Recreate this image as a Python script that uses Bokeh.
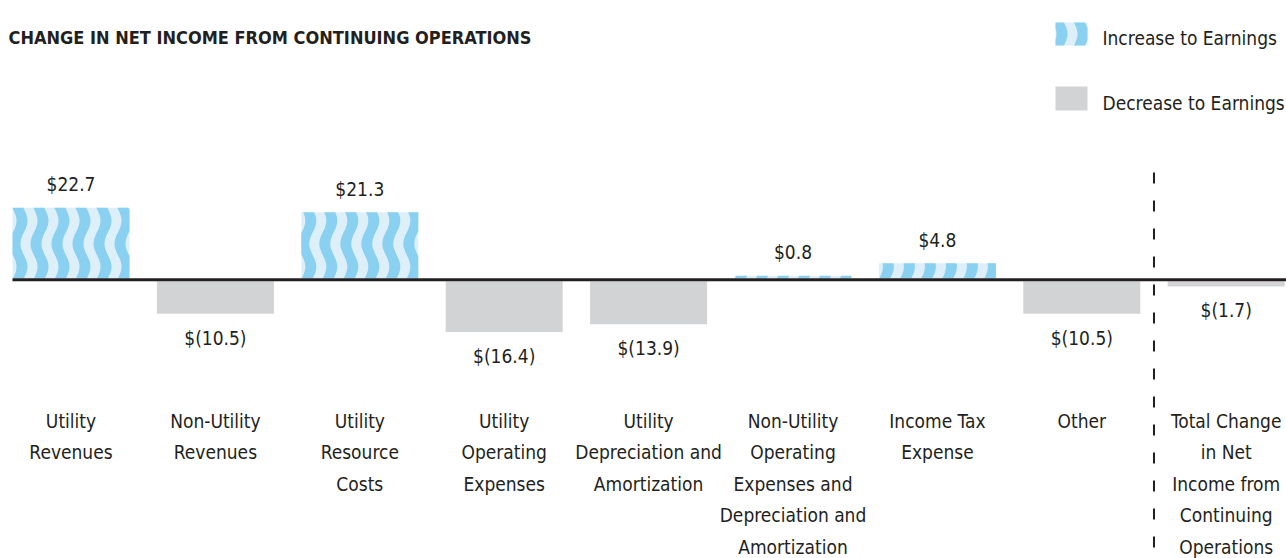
import numpy as np
from bokeh.plotting import figure
from bokeh.models import Range1d
from bokeh.embed import file_html
from bokeh.resources import INLINE
from bokeh.core.properties import value

# ---------------- data ----------------
title = "CHANGE IN NET INCOME FROM CONTINUING OPERATIONS"
categories = [
    "Utility\nRevenues",
    "Non-Utility\nRevenues",
    "Utility\nResource\nCosts",
    "Utility\nOperating\nExpenses",
    "Utility\nDepreciation and\nAmortization",
    "Non-Utility\nOperating\nExpenses and\nDepreciation and\nAmortization",
    "Income Tax\nExpense",
    "Other",
    "Total Change\nin Net\nIncome from\nContinuing\nOperations",
]
changes = [22.7, -10.5, 21.3, -16.4, -13.9, 0.8, 4.8, -10.5, -1.7]
value_labels = ["$22.7", "$(10.5)", "$21.3", "$(16.4)", "$(13.9)", "$0.8", "$4.8", "$(10.5)", "$(1.7)"]
legend_labels = ["Increase to Earnings", "Decrease to Earnings"]

# ---------------- styling / layout ----------------
FONT = "'DejaVu Sans Condensed', 'Liberation Sans Narrow', Roboto, sans-serif"
TXT = "#231f20"
BLUE_D = "#8ad0f0"
BLUE_L = "#ddf0fa"
GRAY = "#d1d3d4"

W, H = 1286, 558
PX_X = 144.4   # px per category step
PX_Y = 3.1     # px per $ million
X0 = 70.5      # px of first category centre
Y0 = 279.2     # px of zero line from top
LINE_W = 3.0
GAP = (LINE_W / 2) / PX_Y
BAR_W = 117 / PX_X


def dx(px):
    return (px - X0) / PX_X


def dy(py):
    return (Y0 - py) / PX_Y


p = figure(width=W, height=H, x_range=Range1d(dx(0), dx(W)), y_range=Range1d(dy(H), dy(0)),
           tools="", toolbar_location=None, output_backend="svg", min_border=0,
           x_axis_location=None, y_axis_location=None)
p.grid.visible = False
p.outline_line_color = None
p.background_fill_color = "white"
p.border_fill_color = "white"

idx = list(range(len(changes)))
pos = [i for i in idx if changes[i] > 0]
neg = [i for i in idx if changes[i] <= 0]


def wave_stripes(left_px, bottom_px, width_px, height_px, step=21.0, sw=11.0, amp=3.5, period=46.0, start=6.0):
    """stripe polygons in px coordinates (x right, y up from bottom)"""
    xs, ys = [], []
    t = np.linspace(0, height_px, max(int(height_px) + 2, 3))
    off = amp * np.sin(2 * np.pi * t / period)
    c = start
    while c - sw / 2 - amp < width_px:
        l = np.clip(c - sw / 2 + off, 0, width_px)
        r = np.clip(c + sw / 2 + off, 0, width_px)
        xs.append(list(left_px + l) + list(left_px + r[::-1]))
        ys.append(list(bottom_px + t) + list(bottom_px + t[::-1]))
        c += step
    return xs, ys


# increase bars: light fill + wavy dark stripes
p.quad(left=[i - BAR_W / 2 for i in pos], right=[i + BAR_W / 2 for i in pos],
       bottom=GAP, top=[changes[i] + GAP for i in pos], fill_color=BLUE_L, line_color=None)
sx, sy = [], []
for i in pos:
    hpx = changes[i] * PX_Y
    xs, ys = wave_stripes(0.0, 0.0, BAR_W * PX_X, hpx)
    for a, b in zip(xs, ys):
        sx.append([i - BAR_W / 2 + u / PX_X for u in a])
        sy.append([GAP + v / PX_Y for v in b])
p.patches(sx, sy, fill_color=BLUE_D, line_color=None)

# decrease bars
p.quad(left=[i - BAR_W / 2 for i in neg], right=[i + BAR_W / 2 for i in neg],
       bottom=[changes[i] - GAP for i in neg], top=-GAP, fill_color=GRAY, line_color=None)

# zero line
p.line([-BAR_W / 2, dx(W)], [0, 0], line_color=TXT, line_width=LINE_W)

# dashed separator before the total
sep = (idx[-2] + idx[-1]) / 2
p.segment(x0=[sep], y0=[dy(172)], x1=[sep], y1=[dy(H)], line_color=TXT, line_width=2, line_dash="11 17")

# value labels
p.text(x=idx, y=[v + (GAP if v > 0 else -GAP) for v in changes], text=value_labels,
       y_offset=[-23.5 if v > 0 else 24 for v in changes],
       text_align="center", text_baseline="middle", text_font=value(FONT),
       text_font_size="19px", text_color=TXT)

# category labels (one glyph per line)
lx, ly, lt, lo = [], [], [], []
for i, cat in enumerate(categories):
    for j, line in enumerate(cat.split("\n")):
        lx.append(i)
        ly.append(dy(420))
        lt.append(line)
        lo.append(31.6 * j)
p.text(x=lx, y=ly, text=lt, y_offset=lo, text_align="center", text_baseline="middle",
       text_font=value(FONT), text_font_size="19px", text_color=TXT)

# title
p.text(x=[dx(8)], y=[dy(37)], text=[title], text_align="left", text_baseline="middle",
       text_font=value(FONT), text_font_style="bold", text_font_size="18px", text_color=TXT)

# legend
p.quad(left=[dx(1055)], right=[dx(1087)], bottom=[dy(45)], top=[dy(22)], fill_color=BLUE_L, line_color=None)
lxs, lys = wave_stripes(1055.0, 0.0, 32.0, 23.0, start=3.0)
p.patches([[dx(u) for u in a] for a in lxs], [[dy(45) + v / PX_Y for v in b] for b in lys],
          fill_color=BLUE_D, line_color=None)
p.quad(left=[dx(1055)], right=[dx(1087)], bottom=[dy(110)], top=[dy(86)], fill_color=GRAY, line_color=None)
p.text(x=[dx(1102), dx(1102)], y=[dy(37), dy(102)], text=legend_labels, text_align="left",
       text_baseline="middle", text_font=value(FONT), text_font_size="19px", text_color=TXT)

open("out.html", "w").write(file_html(p, INLINE))
